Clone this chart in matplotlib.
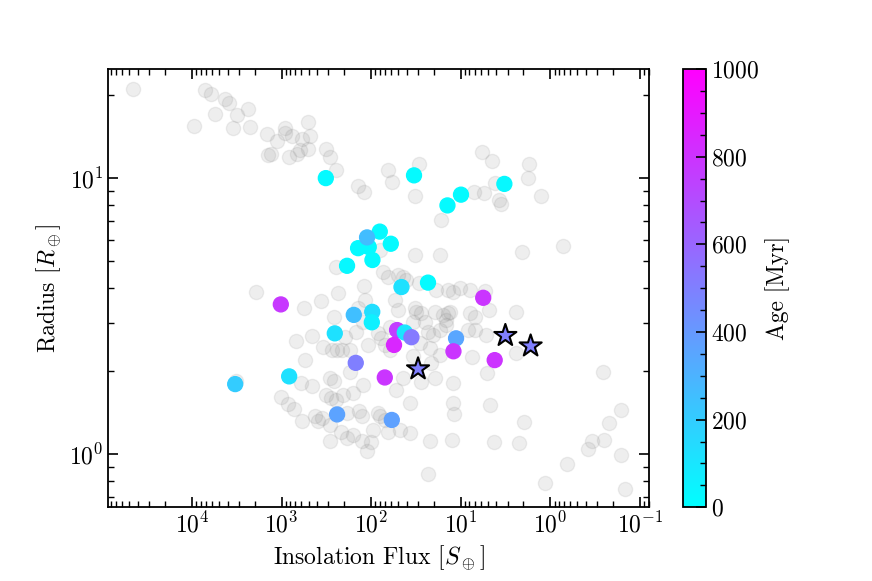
import matplotlib
matplotlib.use("Agg")
import matplotlib.pyplot as plt
import numpy as np
from matplotlib.ticker import MultipleLocator

plt.rcParams['font.family'] = 'serif'
plt.rcParams['font.serif'] = ['cmr10']
plt.rcParams['mathtext.fontset'] = 'cm'
plt.rcParams['axes.formatter.use_mathtext'] = True
plt.rcParams['font.size'] = 17

# background sample (log10 of flux in S_earth, log10 of radius in R_earth)
bg_logS = [4.654, 3.852, 3.792, 3.635, 3.584, 3.376, 3.502, 3.747, 3.978, 3.546,
           3.353, 3.161, 2.963, 2.963, 3.056, 2.882, 2.703, 2.770, 2.677, 2.703,
           2.796, 2.833, 2.919, 3.149, 3.123, 2.506, 2.454, 2.387, 2.149, 2.079,
           0.767, 0.652, 0.243, 0.254, 0.101, 0.614, 0.745, 0.856, 0.577, 0.547,
           1.815, 1.469, 1.763, 1.514, 1.224, 1.506, 1.235, 0.313, -0.139, 1.904,
           1.867, 1.812, 1.700, 1.644, 1.606, 1.466, 1.272, 1.146, 1.090, 1.012,
           2.082, 2.387, 0.734, 0.388, 0.686, 0.901, 0.845, 1.495, 1.146, 1.793,
           0.845, 0.722, 0.388, 0.871, 0.708, -0.585, 0.678, 0.299, 1.339, 1.094,
           0.633, 0.355, -0.790, -0.652, -0.593, -0.463, -0.415, -0.790, -0.181, 1.366,
           0.057, -0.827, 1.087, 1.079, 1.087, 1.570, 3.287, 2.751, 2.559, 2.367,
           2.411, 2.146, 2.841, 2.662, 2.294, 2.172, 2.536, 2.439, 2.383, 2.328,
           2.239, 2.740, 2.239, 2.090, 3.509, 2.785, 2.662, 2.462, 2.417, 2.506,
           2.450, 2.313, 2.395, 2.202, 3.004, 2.926, 2.866, 2.774, 2.629, 2.595,
           2.551, 2.462, 2.275, 2.138, 2.105, 2.331, 2.202, 2.275, 2.454, 2.097,
           2.049, 1.923, 1.904, 1.848, 1.979, 1.812, 1.681, 1.570, 1.997, 1.718,
           1.644, 1.439, 1.291, 1.328, 1.700, 1.514, 1.439, 1.533, 1.402, 1.291,
           1.198, 1.124, 1.161, 1.923, 1.885, 1.848, 1.793, 1.366, 1.310, 1.235,
           1.161, 1.458, 1.347, 1.536, 1.235, 2.038, 2.071, 2.094, 1.737, 0.901,
           0.923]
bg_logR = [1.325, 1.320, 1.305, 1.288, 1.274, 1.250, 1.231, 1.234, 1.189, 1.181,
           1.187, 1.162, 1.183, 1.165, 1.134, 1.153, 1.206, 1.144, 1.153, 1.107,
           1.104, 1.090, 1.078, 1.086, 1.087, 1.107, 1.076, 1.032, 0.973, 0.952,
           1.094, 1.062, 1.052, 1.003, 0.935, 0.985, 0.947, 0.952, 0.923, 0.907,
           1.032, 1.052, 0.988, 0.937, 0.850, 0.723, 0.723, 0.734, 0.756, 0.741,
           0.662, 0.644, 0.650, 0.644, 0.632, 0.620, 0.596, 0.596, 0.588, 0.603,
           0.608, 0.680, 0.590, 0.517, 0.521, 0.511, 0.499, 0.517, 0.511, 0.462,
           0.450, 0.432, 0.366, 0.353, 0.295, 0.299, 0.178, 0.117, 0.047, 0.051,
           0.045, 0.039, 0.160, 0.112, 0.051, 0.048, 0.018, -0.004, -0.036, -0.073,
           -0.103, -0.125, 0.186, 0.145, 0.257, 0.184, 0.587, 0.531, 0.556, 0.586,
           0.499, 0.529, 0.409, 0.429, 0.426, 0.444, 0.390, 0.378, 0.378, 0.378,
           0.378, 0.341, 0.299, 0.251, 0.265, 0.259, 0.246, 0.276, 0.265, 0.214,
           0.203, 0.214, 0.196, 0.220, 0.207, 0.183, 0.162, 0.119, 0.138, 0.120,
           0.131, 0.105, 0.148, 0.156, 0.138, 0.081, 0.069, 0.057, 0.048, 0.048,
           0.011, 0.148, 0.138, 0.124, 0.087, 0.081, 0.087, 0.075, 0.045, 0.232,
           0.275, 0.263, 0.275, 0.329, 0.523, 0.529, 0.511, 0.481, 0.481, 0.517,
           0.505, 0.517, 0.487, 0.438, 0.420, 0.396, 0.378, 0.444, 0.432, 0.450,
           0.469, 0.403, 0.385, 0.356, 0.360, 0.396, 0.559, 0.480, 0.559, 0.596,
           0.450]

# young planets with ages
young_logS = [2.506, 1.522, 0.998, 1.149, 0.514, 1.904, 1.781, 2.146, 2.027, 1.986,
              2.046, 2.269, 1.366, 1.662, 3.008, 2.194, 1.988, 1.993, 2.406, 2.915,
              3.517, 2.172, 2.380, 1.770, 1.848, 1.711, 1.625, 1.551, 1.745, 1.053,
              1.082, 0.622, 0.750]
young_logR = [1.001, 1.011, 0.941, 0.902, 0.980, 0.807, 0.763, 0.747, 0.751, 0.704,
              0.786, 0.683, 0.622, 0.606, 0.543, 0.505, 0.516, 0.478, 0.438, 0.282,
              0.254, 0.331, 0.144, 0.124, 0.278, 0.450, 0.441, 0.424, 0.396, 0.420,
              0.373, 0.341, 0.567]
young_age = [20, 20, 20, 20, 30, 20, 20, 20, 20, 20,
             260, 30, 20, 120, 780, 250, 130, 60, 120, 120,
             200, 500, 360, 370, 790, 760, 100, 520, 850, 350,
             790, 800, 790]

# highlighted planets (stars)
star_logS = [1.477, 0.503, 0.221]
star_logR = [0.309, 0.430, 0.392]
star_age = [500, 500, 500]

fig = plt.figure(figsize=(8.72, 5.81), dpi=100)
ax = fig.add_axes([0.124, 0.127, 0.620, 0.754])
cax = fig.add_axes([0.783, 0.127, 0.027, 0.754])

ax.scatter(10**np.array(bg_logS), 10**np.array(bg_logR), s=105, c='grey', alpha=0.13, zorder=1)
sc = ax.scatter(10**np.array(young_logS), 10**np.array(young_logR), s=115, c=young_age,
                cmap='cool', vmin=0, vmax=1000, zorder=2)
ax.scatter(10**np.array(star_logS), 10**np.array(star_logR), s=280, marker='*', c=star_age,
           cmap='cool', vmin=0, vmax=1000, edgecolors='k', linewidths=1.5, zorder=3)

ax.set_xscale('log')
ax.set_yscale('log')
ax.set_xlim(8.6e4, 0.08)
ax.set_ylim(0.642, 24.9)
ax.set_xlabel(r'Insolation Flux [$S_\oplus$]')
ax.set_ylabel(r'Radius [$R_\oplus$]')
ax.tick_params(which='both', direction='in', top=True, right=True)
ax.tick_params(which='major', length=7, width=1.2)
ax.tick_params(which='minor', length=4, width=1.0)
for sp in ax.spines.values():
    sp.set_linewidth(1.3)

cb = fig.colorbar(sc, cax=cax)
cb.set_label('Age [Myr]')
cb.set_ticks([0, 200, 400, 600, 800, 1000])
cax.yaxis.set_minor_locator(MultipleLocator(50))
cax.tick_params(which='both', direction='in')
cax.tick_params(which='major', length=7, width=1.2)
cax.tick_params(which='minor', length=4, width=1.0)
cb.outline.set_linewidth(1.3)

fig.savefig('out.png', dpi=100)
